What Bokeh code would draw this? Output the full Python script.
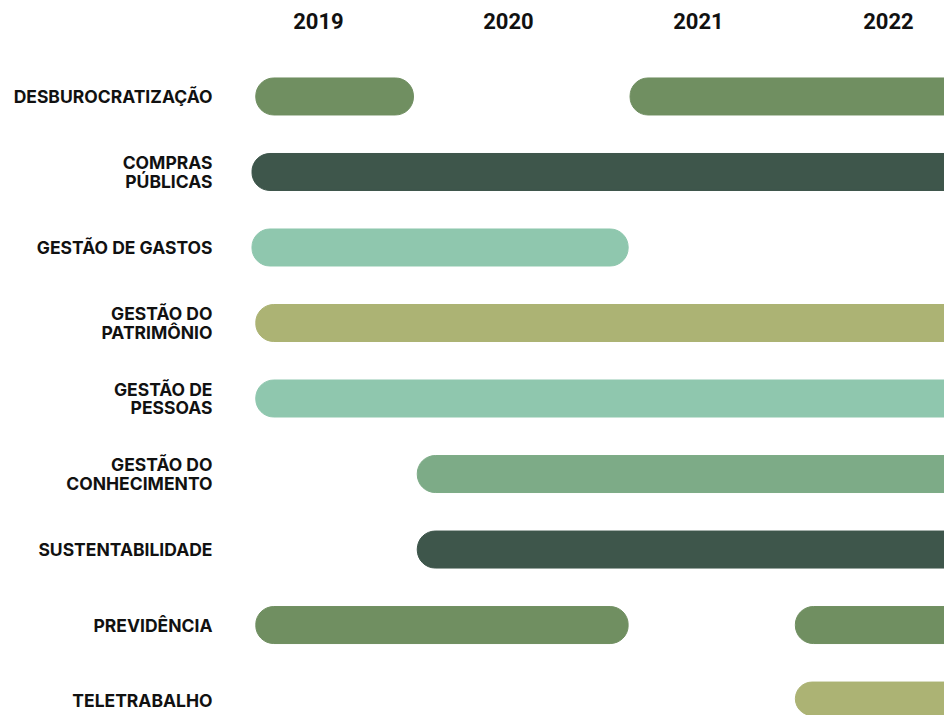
from bokeh.plotting import figure
from bokeh.models import Range1d, FixedTicker, ColumnDataSource
from bokeh.embed import file_html
from bokeh.resources import INLINE

# ---- data ----
categories = [
    "DESBUROCRATIZAÇÃO",
    "COMPRAS\nPÚBLICAS",
    "GESTÃO DE GASTOS",
    "GESTÃO DO\nPATRIMÔNIO",
    "GESTÃO DE\nPESSOAS",
    "GESTÃO DO\nCONHECIMENTO",
    "SUSTENTABILIDADE",
    "PREVIDÊNCIA",
    "TELETRABALHO",
]
years = [2019, 2020, 2021, 2022]

# one entry per bar (a category may have several periods)
bar_category = [0, 0, 1, 2, 3, 4, 5, 6, 7, 7, 8]
bar_start = [2018.67, 2020.64, 2018.65, 2018.65, 2018.67, 2018.67, 2019.52, 2019.52, 2018.67, 2021.51, 2021.51]
bar_end = [2019.50, 2022.60, 2022.60, 2020.63, 2022.60, 2022.60, 2022.60, 2022.60, 2020.63, 2022.60, 2022.60]

# ---- styles ----
category_colors = ["#708f61", "#3e564b", "#8fc7ae", "#acb374", "#8fc7ae",
                   "#7dab87", "#3e564b", "#708f61", "#acb374"]

x_start, x_end = 2018.537, 2022.295

closed = [i for i in range(len(bar_end)) if bar_end[i] <= x_end]
ongoing = [i for i in range(len(bar_end)) if bar_end[i] > x_end]


def make_src(idx):
    return ColumnDataSource(dict(
        y=[bar_category[i] for i in idx],
        left=[bar_start[i] for i in idx],
        right=[bar_end[i] for i in idx],
        color=[category_colors[bar_category[i]] for i in idx],
    ))


p = figure(
    width=944, height=715,
    x_range=Range1d(x_start, x_end),
    y_range=Range1d(8.198, -0.503),
    x_axis_location="above",
    output_backend="svg",
    toolbar_location=None,
    min_border_left=230, min_border_right=0,
    min_border_top=58, min_border_bottom=0,
    outline_line_color=None,
    background_fill_color="white",
    border_fill_color="white",
)

p.hbar(y="y", left="left", right="right", height=0.49, color="color",
       border_radius=18, source=make_src(closed))
# periods still running past the chart's right edge: only the left end is rounded
p.hbar(y="y", left="left", right="right", height=0.49, color="color",
       border_radius=(18, 0, 0, 18), source=make_src(ongoing))

p.xgrid.visible = False
p.ygrid.visible = False

xa = p.xaxis[0]
xa.ticker = FixedTicker(ticks=years)
xa.major_label_overrides = {y: str(y) for y in years}
xa.axis_line_color = None
xa.major_tick_line_color = None
xa.minor_tick_line_color = None
xa.major_label_text_font = "Roboto"
xa.major_label_text_font_style = "bold"
xa.major_label_text_font_size = "22px"
xa.major_label_text_color = "#111111"
xa.major_label_standoff = 24

ya = p.yaxis[0]
ya.ticker = FixedTicker(ticks=list(range(len(categories))))
ya.major_label_overrides = {i: c for i, c in enumerate(categories)}
ya.axis_line_color = None
ya.major_tick_line_color = None
ya.minor_tick_line_color = None
ya.major_label_text_font = "Inter"
ya.major_label_text_font_style = "bold"
ya.major_label_text_font_size = "17.5px"
ya.major_label_text_color = "#111111"
ya.major_label_text_line_height = 0.9
ya.major_label_standoff = 12

open("out.html", "w").write(file_html(p, INLINE))
